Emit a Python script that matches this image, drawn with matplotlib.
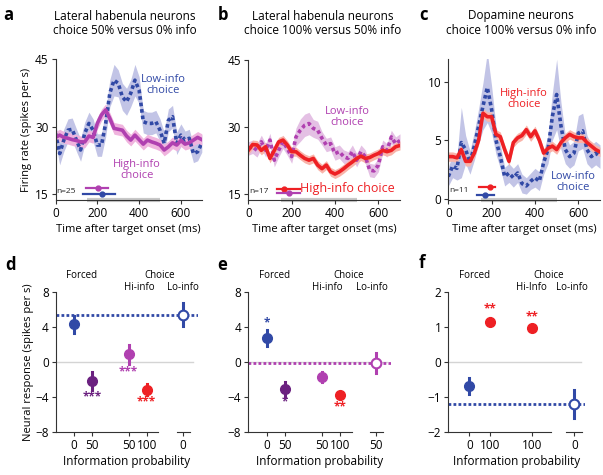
import numpy as np
import matplotlib
matplotlib.use("Agg")
import matplotlib.pyplot as plt

plt.rcParams['font.family'] = ['Open Sans', 'DejaVu Sans']

# ---- data: time courses (ms, spikes/s) ----
t = np.arange(0, 701, 20)

a_hi = [27.6, 28.1, 27.6, 27.4, 27.1, 26.9, 26.6, 26.6, 27.9, 27.6, 30.7, 32.6, 33.7, 31.8, 29.6, 29.4, 29.2, 27.9,
        27.0, 28.1, 27.1, 26.1, 27.0, 26.6, 26.3, 25.9, 24.8, 25.5, 26.4, 25.9, 26.9, 26.1, 26.4, 27.0, 27.6, 27.1]
a_lo = [28.5, 24.0, 27.0, 29.2, 29.4, 27.0, 24.8, 28.5, 30.7, 29.2, 25.9, 25.9, 30.7, 37.4, 40.3, 39.6, 36.6, 35.5,
        37.4, 40.3, 38.1, 31.1, 30.7, 30.7, 31.1, 29.2, 26.3, 31.4, 32.2, 26.3, 28.1, 27.0, 27.4, 24.0, 24.4, 26.3]
a_hi_sem = 1.3
a_lo_sem = [2.0, 2.5, 2.5, 2.5, 2.5, 2.5, 2.5, 2.5, 2.5, 2.5, 2.5, 2.5, 3.0, 3.0, 3.5, 3.0, 3.0, 3.0,
            3.0, 3.5, 3.0, 2.5, 2.5, 2.5, 2.5, 2.5, 2.5, 2.5, 2.5, 2.5, 2.5, 2.0, 2.0, 2.0, 2.0, 2.0]

b_hi = [24.8, 26.1, 26.0, 24.8, 25.6, 23.0, 24.8, 26.7, 27.1, 26.0, 24.5, 24.5, 23.7, 23.0, 22.6, 23.0, 21.5, 20.7,
        21.5, 20.0, 19.5, 20.0, 20.7, 21.5, 22.2, 23.0, 23.5, 23.0, 23.2, 23.7, 24.1, 24.8, 24.5, 24.8, 25.6, 25.9]
b_lo = [25.2, 25.6, 24.8, 26.7, 24.8, 27.1, 22.6, 24.8, 26.7, 25.2, 23.4, 27.8, 29.3, 30.4, 30.8, 29.7, 29.3, 27.5,
        26.0, 26.3, 24.1, 24.5, 23.4, 23.0, 24.5, 22.6, 24.5, 23.4, 20.4, 20.2, 21.5, 25.6, 24.8, 27.8, 26.3, 27.0]
b_hi_sem = 1.0
b_lo_sem = [1.5, 1.5, 1.5, 1.5, 1.5, 1.5, 1.5, 1.5, 1.5, 1.5, 1.5, 2.0, 2.5, 2.5, 2.5, 2.0, 2.0, 1.5,
            1.5, 1.5, 1.5, 1.5, 1.5, 1.5, 1.5, 1.5, 1.5, 1.5, 1.5, 1.5, 1.5, 1.5, 1.5, 1.5, 1.5, 1.5]

c_hi = [3.6, 3.6, 3.5, 4.2, 3.2, 3.2, 3.9, 5.0, 7.3, 7.0, 7.0, 5.5, 5.3, 4.2, 3.2, 4.8, 5.2, 5.4,
        5.9, 5.3, 5.8, 5.0, 3.9, 4.3, 4.5, 4.2, 4.8, 5.2, 5.5, 5.3, 5.2, 5.2, 4.8, 4.5, 4.2, 4.0]
c_lo = [1.9, 2.8, 2.6, 4.8, 4.2, 3.1, 4.5, 6.2, 7.9, 9.5, 7.6, 5.0, 3.6, 1.9, 2.2, 1.8, 2.2, 1.3,
        1.1, 1.5, 1.8, 1.5, 3.1, 4.2, 7.0, 8.9, 6.2, 4.2, 3.6, 3.9, 5.6, 5.8, 4.2, 3.6, 3.9, 3.6]
c_hi_sem = 0.4
c_lo_sem = [0.8, 1.0, 1.0, 3.0, 1.2, 1.0, 1.2, 1.5, 2.0, 3.0, 2.0, 1.2, 1.0, 0.8, 0.8, 0.8, 0.8, 0.8,
            0.7, 0.7, 0.8, 0.8, 1.0, 1.2, 2.0, 3.0, 2.0, 1.2, 1.0, 1.0, 1.5, 1.5, 1.2, 1.0, 1.0, 1.0]

# latency bars: (start, end, dot, level)
a_lat = [(147, 251, 203, 16.3), (131, 283, 224, 15.0)]
b_lat = [(132, 240, 163, 16.1), (132, 240, 186, 15.2)]
c_lat = [(140, 217, 194, 1.0), (133, 210, 171, 0.35)]

# ---- data: population responses ----
d_x = [1, 2, 4, 5]
d_y = [4.34, -2.13, 0.91, -3.12]
d_err = [1.0, 1.0, 1.05, 0.67]
d_open = (7, 5.45, 1.3)
d_ticks = ['0', '50', '50', '100', '0']

e_x = [1, 2, 4, 5]
e_y = [2.82, -3.09, -1.68, -3.77]
e_err = [0.92, 0.86, 0.6, 0.4]
e_open = (7, -0.1, 1.15)
e_ticks = ['0', '50', '50', '100', '50']

f_x = [1, 2, 4]
f_y = [-0.67, 1.16, 0.99]
f_err = [0.23, 0.1, 0.08]
f_open = (6, -1.19, 0.41)
f_ticks = ['0', '100', '100', '0']

BLUE = '#3149a6'
PURPLE = '#6b2180'
MAG = '#b040b0'
RED = '#ee2024'

W, H = 603, 475
fig = plt.figure(figsize=(6.03, 4.75), dpi=100)


def box(l, t_, r, b):
    return [l / W, 1 - b / H, (r - l) / W, (b - t_) / H]


def ftext(x, y, s, **kw):
    fig.text(x / W, 1 - y / H, s, **kw)


def style(ax):
    for s in ['top', 'right']:
        ax.spines[s].set_visible(False)
    for s in ['left', 'bottom']:
        ax.spines[s].set_linewidth(0.8)
        ax.spines[s].set_color('#333333')
    ax.tick_params(labelsize=8.5, length=3, width=0.8, color='#333333', pad=2)


def trace_panel(ax, hi, hi_sem, hi_col, hi_band, lo, lo_sem, lo_col, lo_band, lat, n_txt, ylim, yticks):
    hi = np.array(hi); lo = np.array(lo)
    ax.fill_between(t, lo - np.array(lo_sem), lo + np.array(lo_sem), color=lo_band, lw=0)
    ax.fill_between(t, hi - np.array(hi_sem), hi + np.array(hi_sem), color=hi_band, lw=0)
    ax.plot(t, lo, color=lo_col, lw=2.6, ls=(0, (1, 0.8)))
    ax.plot(t, hi, color=hi_col, lw=2.6)
    for (s, e, d, yv), col in zip(lat, [hi_col, lo_col]):
        ax.plot([s, e], [yv, yv], color=col, lw=1.6)
        ax.plot([d], [yv], 'o', color=col, ms=3.5)
    ax.text(5, (lat[0][3] + lat[1][3]) / 2, n_txt, fontsize=6, va='center', ha='left', color='#222222')
    ax.plot([150, 500], [ylim[0], ylim[0]], color='#c8c8c8', lw=3, solid_capstyle='butt', clip_on=False, zorder=0)
    ax.set_xlim(0, 700)
    ax.set_ylim(*ylim)
    ax.set_xticks([0, 200, 400, 600])
    ax.set_yticks(yticks)
    style(ax)
    ax.set_xlabel('Time after target onset (ms)', fontsize=8, labelpad=3)


ax_a = fig.add_axes(box(55.5, 59, 201.8, 200))
trace_panel(ax_a, a_hi, a_hi_sem, MAG, '#f0b4de', a_lo, a_lo_sem, BLUE, '#c2c4e6', a_lat, 'n=25', (13.7, 45), [15, 30, 45])
ax_a.text(514, 39.2, 'Low-info\nchoice', color=BLUE, fontsize=8, ha='center', va='center', linespacing=1.0)
ax_a.text(389, 20.3, 'High-info\nchoice', color=MAG, fontsize=8, ha='center', va='center', linespacing=1.0)

ax_b = fig.add_axes(box(248.3, 60, 400, 200))
trace_panel(ax_b, b_hi, b_hi_sem, RED, '#f9b4aa', b_lo, b_lo_sem, MAG, '#e4c0e4', b_lat, 'n=17', (13.7, 45), [15, 30, 45])
ax_b.text(455, 32.3, 'Low-info\nchoice', color=MAG, fontsize=8, ha='center', va='center', linespacing=1.0)
ax_b.text(455, 16.3, 'High-info choice', color=RED, fontsize=9, ha='center', va='center')

ax_c = fig.add_axes(box(448.3, 59.3, 600, 200))
trace_panel(ax_c, c_hi, c_hi_sem, RED, '#f9b4aa', c_lo, c_lo_sem, BLUE, '#c2c4e6', c_lat, 'n=11', (-0.1, 11.9), [0, 5, 10])
ax_c.text(348, 8.5, 'High-info\nchoice', color=RED, fontsize=8, ha='center', va='center', linespacing=1.0)
ax_c.text(578, 1.4, 'Low-info\nchoice', color=BLUE, fontsize=8, ha='center', va='center', linespacing=1.0)
ax_a.set_ylabel('Firing rate (spikes per s)', fontsize=8, labelpad=2)


def resp_panel(ax, xs, ys, errs, cols, opn, open_col, ticks, ylim, yticks, xmax, seg, stars):
    ax.axhline(0, color='#d4d4d4', lw=1, xmin=0, xmax=0.97, zorder=0)
    ax.plot([0, xmax], [opn[1], opn[1]], color=open_col, lw=2, ls=(0, (1, 0.8)), zorder=1)
    for x, y, e, c in zip(xs, ys, errs, cols):
        ax.plot([x, x], [y - e, y + e], color=c, lw=2.2, zorder=2)
        ax.plot([x], [y], 'o', color=c, ms=7, zorder=3)
    ox, oy, oe = opn
    ax.plot([ox, ox], [oy - oe, oy + oe], color=open_col, lw=2.2, zorder=2)
    ax.plot([ox], [oy], 'o', mfc='white', mec=open_col, mew=1.5, ms=7, zorder=3)
    for x, y, s, c in stars:
        ax.text(x, y, s, color=c, fontsize=8.5, ha='center', va='center', fontweight='bold')
    ax.set_xlim(0, xmax)
    ax.set_ylim(*ylim)
    ax.set_yticks(yticks)
    ax.set_xticks(list(xs) + [ox])
    ax.set_xticklabels(ticks)
    style(ax)
    ax.spines['bottom'].set_bounds(0, seg[0])
    ax.plot([seg[1], seg[2]], [ylim[0], ylim[0]], color='#333333', lw=0.8, clip_on=False)
    ax.set_xlabel('Information probability', fontsize=8.5, labelpad=2)


ax_d = fig.add_axes(box(55.7, 292.3, 55.7 + 7.8 * 18.2, 432.3))
resp_panel(ax_d, d_x, d_y, d_err, [BLUE, PURPLE, MAG, RED], d_open, BLUE, d_ticks, (-8, 8), [-8, -4, 0, 4, 8], 7.8,
           (5.62, 6.65, 7.38),
           [(2, -3.9, '***', PURPLE), (4, -1.1, '***', MAG), (5, -4.5, '***', RED)])
ax_d.set_ylabel('Neural response (spikes per s)', fontsize=8, labelpad=1)

ax_e = fig.add_axes(box(248.3, 292.3, 248.3 + 7.8 * 18.3, 432.3))
resp_panel(ax_e, e_x, e_y, e_err, [BLUE, PURPLE, MAG, RED], e_open, MAG, e_ticks, (-8, 8), [-8, -4, 0, 4, 8], 7.8,
           (5.65, 6.65, 7.36),
           [(1, 4.5, '*', BLUE), (2, -4.5, '*', PURPLE), (5, -5.1, '**', RED)])

ax_f = fig.add_axes(box(448.3, 292.3, 448.3 + 6.5 * 21, 432.3))
resp_panel(ax_f, f_x, f_y, f_err, [BLUE, RED, RED], f_open, BLUE, f_ticks, (-2, 2), [-2, -1, 0, 1, 2], 6.5,
           (4.9, 5.6, 6.35),
           [(2, 1.52, '**', RED), (4, 1.3, '**', RED)])

# group labels above bottom panels
for ax, xf, xc, xh, xl in [(ax_d, 1.43, 5.73, 4.6, 7.0), (ax_e, 1.46, 5.46, 4.34, 6.74), (ax_f, 1.27, 4.76, 3.97, 5.88)]:
    ax.text(xf, 1.12, 'Forced', transform=ax.get_xaxis_transform(), fontsize=7, ha='center', va='center')
    ax.text(xc, 1.12, 'Choice', transform=ax.get_xaxis_transform(), fontsize=7, ha='center', va='center')
    ax.text(xh, 1.035, 'Hi-info' if ax is not ax_f else 'Hi-Info', transform=ax.get_xaxis_transform(), fontsize=7, ha='center', va='center')
    ax.text(xl, 1.035, 'Lo-info', transform=ax.get_xaxis_transform(), fontsize=7, ha='center', va='center')

# titles and panel letters
titles = [(125, 'Lateral habenula neurons', 'choice 50% versus 0% info'),
          (323, 'Lateral habenula neurons', 'choice 100% versus 50% info'),
          (521, 'Dopamine neurons', 'choice 100% versus 0% info')]
for x, l1, l2 in titles:
    ftext(x, 16, l1, fontsize=8.5, ha='center', va='center')
    ftext(x, 31, l2, fontsize=8.5, ha='center', va='center')

for x, y, s in [(8, 15, 'a'), (223, 15, 'b'), (423, 15, 'c'), (10, 265, 'd'), (222, 265, 'e'), (422, 263, 'f')]:
    ftext(x, y, s, fontsize=12, fontweight='bold', ha='center', va='center')

fig.savefig('out.png', dpi=100)
